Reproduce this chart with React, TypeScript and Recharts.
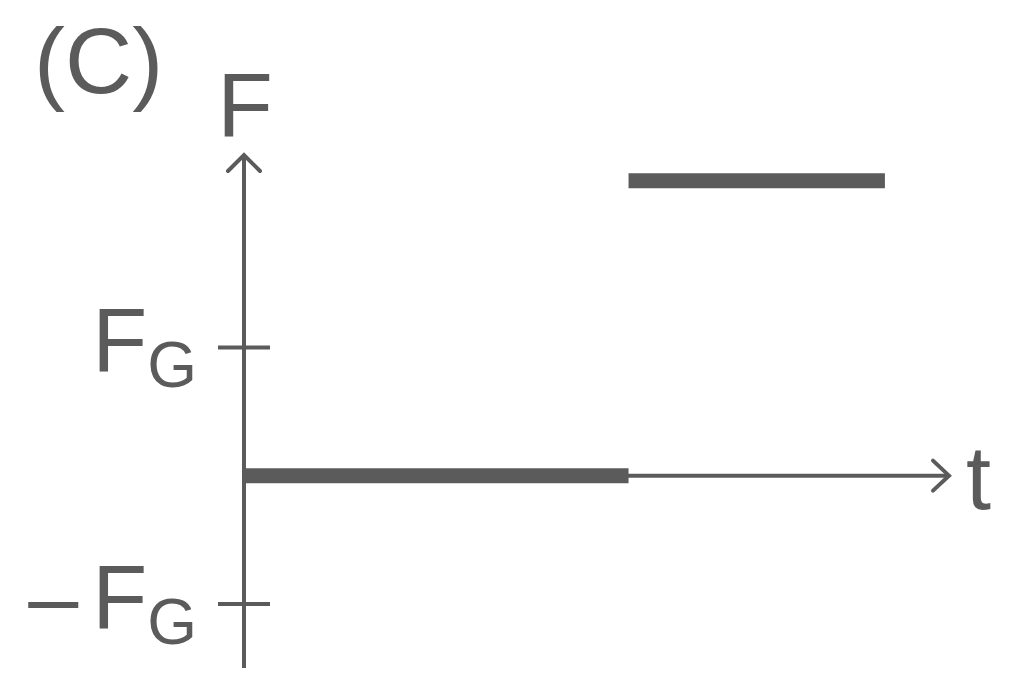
import { Line, LineChart, ReferenceDot, ReferenceLine, XAxis, YAxis } from "recharts";

// F(t) step diagram, force in units of F_G, time in arbitrary units
const restTimes = [0, 3];
const restForce = [0, 0];
const pushTimes = [3, 5];
const pushForce = [2.3, 2.3];

const tickValues = [-1, 1];
const tickLabels = ["−F", "F"];
const tickSubscript = "G";

const timeDomain = [0, 5.5];
const forceDomain = [-1.5, 2.5];

const INK = "#5b5b5b";
const FONT = "'Liberation Sans', Arial, Helvetica, sans-serif";

const restData = restTimes.map((t, i) => ({ t, F: restForce[i] }));
const pushData = pushTimes.map((t, i) => ({ t, F: pushForce[i] }));

function ForceTick({ x, y, payload }: any) {
  const idx = tickValues.indexOf(payload.value);
  const label = tickLabels[idx] ?? "";
  const negative = label.startsWith("−");
  return (
    <g>
      <line x1={x - 26} x2={x + 26} y1={y} y2={y} stroke={INK} strokeWidth={4} />
      <text x={x - 47} y={y + 24} textAnchor="end" fill={INK} fontFamily={FONT} fontSize={90}>
        {negative && <tspan>–</tspan>}
        <tspan dx={negative ? 14 : 0}>F</tspan>
        <tspan fontSize={64} dy={16}>
          {tickSubscript}
        </tspan>
      </text>
    </g>
  );
}

function UpArrow({ cx, cy }: any) {
  return (
    <g>
      <polyline
        points={`${cx - 16},${cy + 16} ${cx},${cy} ${cx + 16},${cy + 16}`}
        fill="none"
        stroke={INK}
        strokeWidth={4}
        strokeLinecap="round"
      />
      <text x={cx + 1} y={cy - 19} textAnchor="middle" fill={INK} fontFamily={FONT} fontSize={91}>
        F
      </text>
    </g>
  );
}

function RightArrow({ cx, cy }: any) {
  return (
    <g>
      <polyline
        points={`${cx - 16},${cy - 15} ${cx},${cy} ${cx - 16},${cy + 15}`}
        fill="none"
        stroke={INK}
        strokeWidth={4}
        strokeLinecap="round"
      />
      <text x={cx + 17} y={cy + 33} fill={INK} fontFamily={FONT} fontSize={90}>
        t
      </text>
    </g>
  );
}

export default function App() {
  return (
    <div style={{ position: "relative", width: 1024, height: 684, background: "#fff" }}>
      <style>{`body { margin: 0; }`}</style>
      <div
        style={{
          position: "absolute",
          left: 34,
          top: 11,
          fontFamily: FONT,
          fontSize: 93,
          lineHeight: "100px",
          color: INK,
        }}
      >
        (C)
      </div>
      <LineChart width={1024} height={684} margin={{ top: 155, right: 75, bottom: 16, left: 0 }}>
        <XAxis type="number" dataKey="t" domain={timeDomain} hide />
        <YAxis
          type="number"
          domain={forceDomain}
          ticks={tickValues}
          width={244}
          tickSize={0}
          tickMargin={0}
          tickLine={false}
          axisLine={{ stroke: INK, strokeWidth: 4 }}
          tick={<ForceTick />}
          interval={0}
        />
        <ReferenceLine y={0} stroke={INK} strokeWidth={4} ifOverflow="visible" />
        <Line
          data={restData}
          dataKey="F"
          stroke={INK}
          strokeWidth={15}
          strokeLinecap="butt"
          dot={false}
          activeDot={false}
          isAnimationActive={false}
        />
        <Line
          data={pushData}
          dataKey="F"
          stroke={INK}
          strokeWidth={15}
          strokeLinecap="butt"
          dot={false}
          activeDot={false}
          isAnimationActive={false}
        />
        <ReferenceDot x={timeDomain[0]} y={forceDomain[1]} ifOverflow="visible" shape={<UpArrow />} />
        <ReferenceDot x={timeDomain[1]} y={0} ifOverflow="visible" shape={<RightArrow />} />
      </LineChart>
    </div>
  );
}
